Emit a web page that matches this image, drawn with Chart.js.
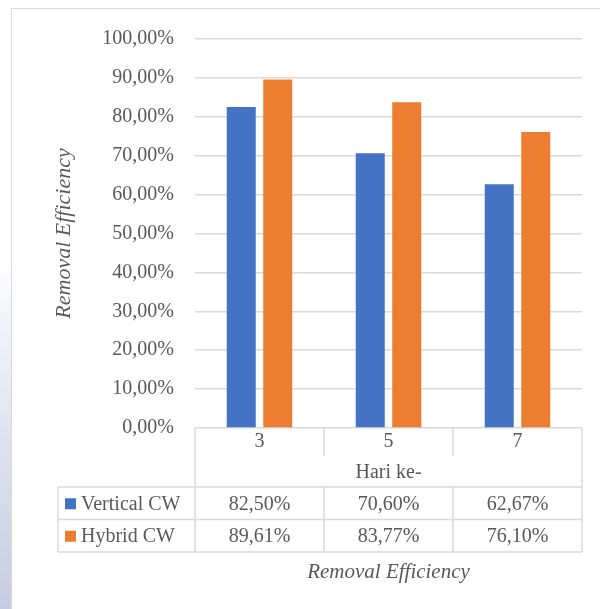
<!DOCTYPE html>
<html>
<head>
<meta charset="utf-8">
<script src="https://cdn.jsdelivr.net/npm/chart.js@4.4.1/dist/chart.umd.min.js"></script>
<style>
  html, body { margin: 0; padding: 0; background: #fff; }
  #wrap { position: relative; width: 600px; height: 609px; overflow: hidden; }
  #side { position: absolute; left: 0; top: 0; width: 12px; height: 609px;
          background: linear-gradient(to bottom, rgba(200,204,224,0) 0%, rgba(200,204,224,0) 42%, rgba(205,209,228,0.6) 70%, rgba(200,204,224,1) 100%); }
  #frame { position: absolute; left: 11px; top: 8px; width: 640px; height: 640px;
           border: 1.5px solid #d9d9d9; box-sizing: border-box; }
  canvas { position: absolute; left: 0; top: 0; }
</style>
</head>
<body>
<div id="wrap">
  <div id="side"></div>
  <div id="frame"></div>
  <canvas id="chart" width="600" height="609"></canvas>
</div>
<script>
// Days of observation and removal efficiency (%) per system
const days = ['3', '5', '7'];
const seriesNames = ['Vertical CW', 'Hybrid CW'];
const verticalCW = [82.50, 70.60, 62.67];
const hybridCW = [89.61, 83.77, 76.10];
const seriesColors = ['#4472C4', '#ED7D31'];
const yTicks = [0, 10, 20, 30, 40, 50, 60, 70, 80, 90, 100];

const FONT = "'Liberation Serif', 'Times New Roman', serif";
const TEXT = '#595959';
const LINE = '#d9d9d9';

const pct = v => v.toFixed(2).replace('.', ',') + '%';

// Data table under the plot: category row, axis title, one row per series
const dataTable = {
  id: 'dataTable',
  afterDraw(chart) {
    const ctx = chart.ctx;
    const area = chart.chartArea;
    const x = chart.scales.x;
    const left = area.left, right = area.right, top = area.bottom;
    const catW = (right - left) / days.length;
    const rowCat = top + 28;      // bottom of category row
    const rowHead = top + 59;     // bottom of axis-title row
    const rowH = 32.5;
    const tableLeft = 58;

    ctx.save();
    ctx.strokeStyle = LINE;
    ctx.lineWidth = 1.5;
    const line = (x1, y1, x2, y2) => { ctx.beginPath(); ctx.moveTo(x1, y1); ctx.lineTo(x2, y2); ctx.stroke(); };

    // outer verticals of the plot columns
    line(left, top, left, rowHead + rowH * seriesNames.length);
    line(right, top, right, rowHead + rowH * seriesNames.length);
    // separators in the category row and the series rows
    for (let i = 1; i < days.length; i++) {
      const xs = left + catW * i;
      line(xs, top, xs, rowCat);
      line(xs, rowHead, xs, rowHead + rowH * seriesNames.length);
    }
    // horizontal rules of the series rows
    for (let r = 0; r <= seriesNames.length; r++) {
      const y = rowHead + rowH * r;
      line(tableLeft, y, right, y);
    }
    line(tableLeft, rowHead, tableLeft, rowHead + rowH * seriesNames.length);

    ctx.fillStyle = TEXT;
    ctx.textBaseline = 'middle';
    ctx.textAlign = 'center';
    ctx.font = '20px ' + FONT;
    days.forEach((d, i) => ctx.fillText(d, x.getPixelForValue(i), top + 14));
    ctx.fillText('Hari ke-', (left + right) / 2, top + 45);

    const rows = [verticalCW, hybridCW];
    rows.forEach((vals, r) => {
      const yc = rowHead + rowH * r + rowH / 2 + 1;
      vals.forEach((v, i) => ctx.fillText(pct(v), x.getPixelForValue(i), yc));
      ctx.fillStyle = seriesColors[r];
      ctx.fillRect(65, yc - 6, 11, 11);
      ctx.fillStyle = TEXT;
      ctx.textAlign = 'left';
      ctx.fillText(seriesNames[r], 81, yc);
      ctx.textAlign = 'center';
    });

    ctx.font = 'italic 21px ' + FONT;
    ctx.fillText('Removal Efficiency', (left + right) / 2, 572);
    ctx.restore();
  }
};

new Chart(document.getElementById('chart'), {
  type: 'bar',
  data: {
    labels: days,
    datasets: [
      { label: seriesNames[0], data: verticalCW, backgroundColor: seriesColors[0] },
      { label: seriesNames[1], data: hybridCW, backgroundColor: seriesColors[1] }
    ]
  },
  options: {
    responsive: false,
    animation: false,
    devicePixelRatio: 1,
    layout: { padding: { left: 47, right: 18, top: 39, bottom: 181 } },
    datasets: { bar: { categoryPercentage: 0.566, barPercentage: 0.795 } },
    plugins: { legend: { display: false }, tooltip: { enabled: false } },
    scales: {
      x: {
        grid: { display: false },
        border: { display: false },
        ticks: { display: false },
        afterFit: s => { s.height = 0; }
      },
      y: {
        min: 0, max: 100,
        afterBuildTicks: s => { s.ticks = yTicks.map(v => ({ value: v })); },
        afterFit: s => { s.width = 148; },
        grid: { color: LINE, lineWidth: 1.5, drawTicks: false },
        border: { display: false },
        ticks: {
          padding: 21,
          color: TEXT,
          font: { family: FONT, size: 20 },
          callback: v => pct(v)
        },
        title: {
          display: true,
          text: 'Removal Efficiency',
          color: TEXT,
          font: { family: FONT, size: 22, style: 'italic' },
          padding: { top: 4, bottom: 4 }
        }
      }
    }
  },
  plugins: [dataTable]
});
</script>
</body>
</html>
